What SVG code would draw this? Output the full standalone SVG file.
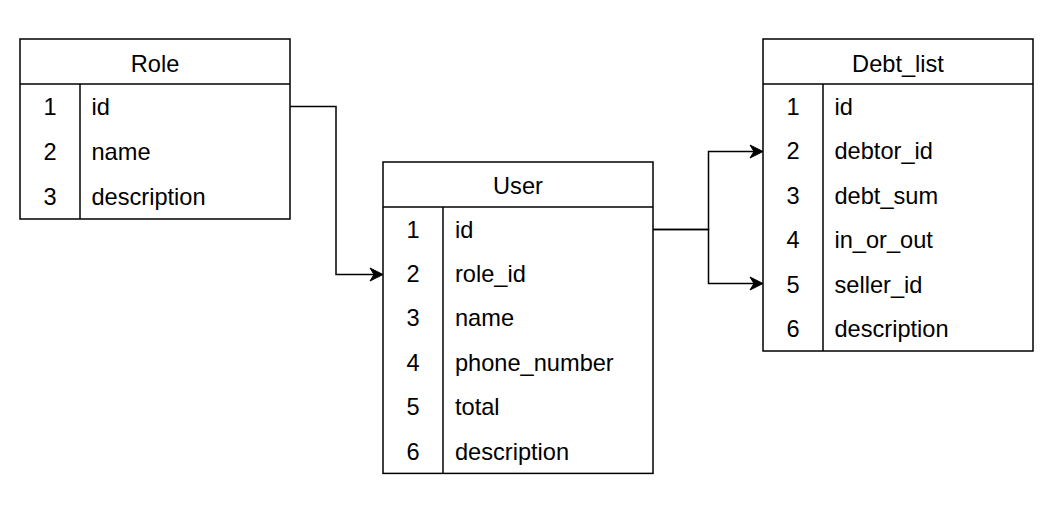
<svg xmlns="http://www.w3.org/2000/svg" width="1060" height="507" viewBox="0 0 1060 507">
<style>
.box{fill:#ffffff;stroke:#000000;stroke-width:1.5}
.ln{fill:none;stroke:#000000;stroke-width:1.5}
.t{font-family:"Liberation Sans",Arial,sans-serif;font-size:23.6px;fill:#000000}
.c{text-anchor:middle}
.conn{fill:none;stroke:#000000;stroke-width:1.5}
</style>
<defs>
<marker id="arr" markerUnits="userSpaceOnUse" markerWidth="16" markerHeight="16" viewBox="-14 -8 16 16" refX="-9" refY="0" orient="auto">
<path d="M0,0 L-13,-6.5 L-9,0 L-13,6.5 Z" fill="#000000" stroke="#000000" stroke-width="1"/>
</marker>
</defs>
<rect width="1060" height="507" fill="#ffffff"/>
<g id="role">
<rect class="box" x="20" y="39" width="270" height="180"/>
<line class="ln" x1="20" y1="84" x2="290" y2="84"/>
<line class="ln" x1="80" y1="84" x2="80" y2="219"/>
<text class="t c" x="155" y="71.8">Role</text>
<text class="t c" x="50" y="114.8">1</text><text class="t" x="91.5" y="114.8">id</text>
<text class="t c" x="50" y="159.8">2</text><text class="t" x="91.5" y="159.8">name</text>
<text class="t c" x="50" y="204.8">3</text><text class="t" x="91.5" y="204.8">description</text>
</g>
<g id="user">
<rect class="box" x="383" y="162" width="270" height="311.4"/>
<line class="ln" x1="383" y1="207" x2="653" y2="207"/>
<line class="ln" x1="443" y1="207" x2="443" y2="473.4"/>
<text class="t c" x="518" y="194.3">User</text>
<text class="t c" x="413" y="237.5">1</text><text class="t" x="455" y="237.5">id</text>
<text class="t c" x="413" y="281.9">2</text><text class="t" x="455" y="281.9">role_id</text>
<text class="t c" x="413" y="326.3">3</text><text class="t" x="455" y="326.3">name</text>
<text class="t c" x="413" y="370.7">4</text><text class="t" x="455" y="370.7">phone_number</text>
<text class="t c" x="413" y="415.1">5</text><text class="t" x="455" y="415.1">total</text>
<text class="t c" x="413" y="459.5">6</text><text class="t" x="455" y="459.5">description</text>
</g>
<g id="debt_list">
<rect class="box" x="763" y="39" width="270" height="312"/>
<line class="ln" x1="763" y1="84" x2="1033" y2="84"/>
<line class="ln" x1="823" y1="84" x2="823" y2="351"/>
<text class="t c" x="898" y="72.2">Debt_list</text>
<text class="t c" x="793" y="114.6">1</text><text class="t" x="834.5" y="114.6">id</text>
<text class="t c" x="793" y="159.1">2</text><text class="t" x="834.5" y="159.1">debtor_id</text>
<text class="t c" x="793" y="203.6">3</text><text class="t" x="834.5" y="203.6">debt_sum</text>
<text class="t c" x="793" y="248.1">4</text><text class="t" x="834.5" y="248.1">in_or_out</text>
<text class="t c" x="793" y="292.6">5</text><text class="t" x="834.5" y="292.6">seller_id</text>
<text class="t c" x="793" y="337.1">6</text><text class="t" x="834.5" y="337.1">description</text>
</g>
<g id="connectors">
<path class="conn" d="M290,106.5 H336 V274.5 H374" marker-end="url(#arr)"/>
<path class="conn" d="M653,229.5 H708.5 V151.5 H754" marker-end="url(#arr)"/>
<path class="conn" d="M653,229.5 H708.5 V283.5 H754" marker-end="url(#arr)"/>
</g>
</svg>
